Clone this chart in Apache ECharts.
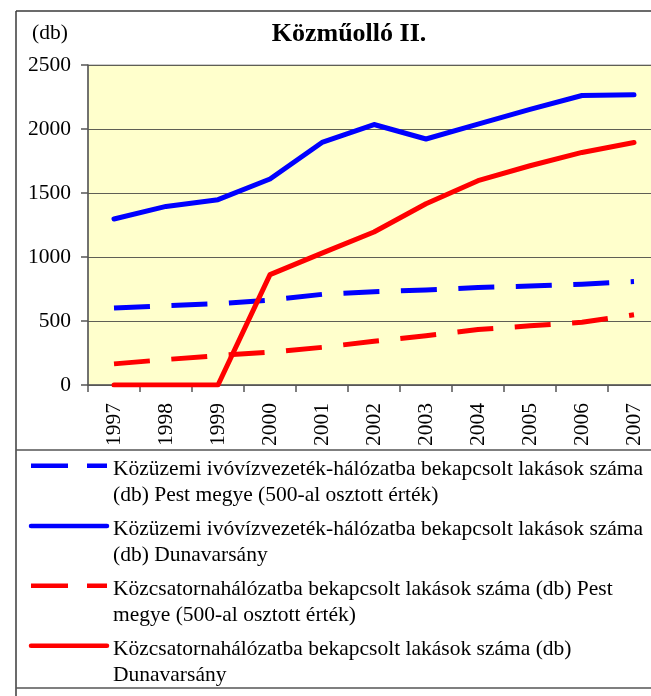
<!DOCTYPE html>
<html>
<head>
<meta charset="utf-8">
<script src="https://cdn.jsdelivr.net/npm/echarts@6/dist/echarts.min.js"></script>
<style>
  html, body { margin: 0; padding: 0; background: #fff; overflow: hidden; }
  #chart { width: 672px; height: 696px; }
</style>
</head>
<body>
<div id="chart"></div>
<script>
// Évek (kategóriák)
const years = ['1997', '1998', '1999', '2000', '2001', '2002', '2003', '2004', '2005', '2006', '2007'];

// Közüzemi ivóvízvezeték-hálózatba bekapcsolt lakások – Pest megye (500-zal osztva)
const vizPest = [601, 620, 635, 663, 708, 728, 743, 762, 773, 787, 808];
// Közüzemi ivóvízvezeték-hálózatba bekapcsolt lakások – Dunavarsány
const vizDuna = [1297, 1395, 1448, 1609, 1895, 2035, 1922, 2038, 2153, 2262, 2268];
// Közcsatornahálózatba bekapcsolt lakások – Pest megye (500-zal osztva)
const csatPest = [165, 199, 230, 257, 294, 342, 385, 433, 462, 490, 549];
// Közcsatornahálózatba bekapcsolt lakások – Dunavarsány
const csatDuna = [0, 0, 0, 862, 1030, 1195, 1416, 1596, 1713, 1817, 1895];

// Y tengely
const yMin = 0, yMax = 2500, yStep = 500;

const names = [
  'Közüzemi ivóvízvezeték-hálózatba bekapcsolt lakások száma (db) Pest megye (500-al osztott érték)',
  'Közüzemi ivóvízvezeték-hálózatba bekapcsolt lakások száma (db) Dunavarsány',
  'Közcsatornahálózatba bekapcsolt lakások száma (db) Pest megye (500-al osztott érték)',
  'Közcsatornahálózatba bekapcsolt lakások száma (db) Dunavarsány'
];
const legendLines = [
  'Közüzemi ivóvízvezeték-hálózatba bekapcsolt lakások száma\n(db) Pest megye (500-al osztott érték)',
  'Közüzemi ivóvízvezeték-hálózatba bekapcsolt lakások száma\n(db) Dunavarsány',
  'Közcsatornahálózatba bekapcsolt lakások száma (db) Pest\nmegye (500-al osztott érték)',
  'Közcsatornahálózatba bekapcsolt lakások száma (db)\nDunavarsány'
];

const SERIF = '"Liberation Serif", "Times New Roman", serif';
const FS = 21.5;
const BLUE = '#0000FF', RED = '#FF0000';
const DASH = [36, 21.5];
const colors = [BLUE, BLUE, RED, RED];
const dashed = [true, false, true, false];
const seriesData = [vizPest, vizDuna, csatPest, csatDuna];

function lineSeries(i) {
  return {
    name: names[i],
    type: 'line',
    data: seriesData[i],
    symbol: 'none',
    showSymbol: false,
    silent: true,
    lineStyle: {
      color: colors[i],
      width: 5,
      type: dashed[i] ? DASH : 'solid',
      cap: dashed[i] ? 'butt' : 'round',
      join: 'round'
    },
    itemStyle: { color: colors[i] }
  };
}

// Jelmagyarázat: minta vonal + kétsoros felirat
const legendIconY = [465.7, 526, 585.7, 645.7];
const legendTextTop = [456, 516.6, 576.6, 636.6];
const legendGraphics = [];
names.forEach((n, i) => {
  legendGraphics.push({
    type: 'line', silent: true,
    shape: { x1: 31, y1: legendIconY[i], x2: 107, y2: legendIconY[i] },
    style: {
      stroke: colors[i], lineWidth: 4.5,
      lineDash: dashed[i] ? [37, 19] : null,
      lineCap: dashed[i] ? 'butt' : 'round'
    }
  });
  legendGraphics.push({
    type: 'text', silent: true, x: 113, y: legendTextTop[i],
    style: {
      text: legendLines[i], font: FS + 'px ' + SERIF, fill: '#000',
      lineHeight: 26, verticalAlign: 'top', align: 'left'
    }
  });
});

const chart = echarts.init(document.getElementById('chart'), null, { renderer: 'canvas' });

chart.setOption({
  animation: false,
  backgroundColor: '#fff',
  grid: {
    left: 88,
    top: 65,
    width: 572,
    height: 320,
    containLabel: false,
    outerBoundsMode: 'none',
    show: true,
    backgroundColor: '#FFFFCC',
    borderColor: '#999',
    borderWidth: 1
  },
  xAxis: {
    type: 'category',
    data: years,
    boundaryGap: true,
    axisLine: { lineStyle: { color: '#555', width: 1.5 } },
    axisTick: { show: true, length: 7, alignWithLabel: false, lineStyle: { color: '#555', width: 1.5 } },
    axisLabel: {
      rotate: 90,
      margin: 18,
      interval: 0,
      fontFamily: SERIF,
      fontSize: FS,
      color: '#000'
    },
    splitLine: { show: false }
  },
  yAxis: {
    type: 'value',
    min: yMin,
    max: yMax,
    interval: yStep,
    axisLine: { show: true, lineStyle: { color: '#555', width: 1.5 } },
    axisTick: { show: true, length: 7, lineStyle: { color: '#555', width: 1.5 } },
    axisLabel: { margin: 17, fontFamily: SERIF, fontSize: FS, color: '#000', formatter: v => String(v) },
    splitLine: { show: true, lineStyle: { color: '#5f5f55', width: 1 } }
  },
  series: [0, 1, 2, 3].map(lineSeries),
  graphic: [
    { type: 'text', silent: true, x: 349, y: 34,
      style: { text: 'Közműolló II.', font: 'bold 26px ' + SERIF, fill: '#000', align: 'center', verticalAlign: 'middle' } },
    { type: 'text', silent: true, x: 32, y: 33,
      style: { text: '(db)', font: FS + 'px ' + SERIF, fill: '#000', align: 'left', verticalAlign: 'middle' } },
    // keret és elválasztó vonalak
    { type: 'line', silent: true, shape: { x1: 16, y1: 11, x2: 672, y2: 11 }, style: { stroke: '#3a3a3a', lineWidth: 1.5 } },
    { type: 'line', silent: true, shape: { x1: 16, y1: 11, x2: 16, y2: 696 }, style: { stroke: '#3a3a3a', lineWidth: 1.5 } },
    { type: 'line', silent: true, shape: { x1: 16, y1: 450, x2: 672, y2: 450 }, style: { stroke: '#555', lineWidth: 1.5 } },
    { type: 'line', silent: true, shape: { x1: 16, y1: 688, x2: 672, y2: 688 }, style: { stroke: '#555', lineWidth: 1.5 } }
  ].concat(legendGraphics)
});
</script>
</body>
</html>
